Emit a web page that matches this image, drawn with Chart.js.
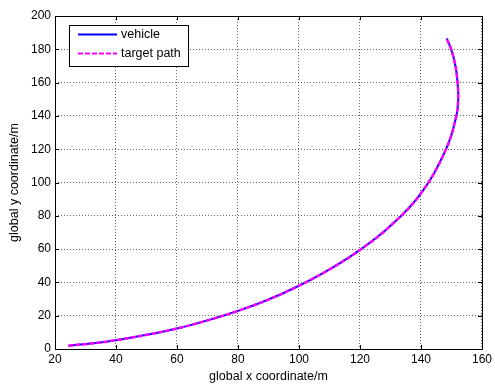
<!DOCTYPE html>
<html>
<head>
<meta charset="utf-8">
<title>global path</title>
<script src="https://cdn.jsdelivr.net/npm/chart.js@4.4.0/dist/chart.umd.min.js"></script>
<style>
  html, body { margin: 0; padding: 0; background: #fff; }
  canvas { display: block; }
</style>
</head>
<body>
<canvas id="pathChart" width="495" height="385"></canvas>
<script>
// values
const xTickValues = [20, 40, 60, 80, 100, 120, 140, 160];
const yTickValues = [0, 20, 40, 60, 80, 100, 120, 140, 160, 180, 200];

const vehicleX = [24.4, 32.5, 40, 50, 60, 70, 80, 90, 100, 110, 120, 130, 140, 148.2, 151.6, 152.2, 152.0, 151.3, 149.9, 148.4];
const vehicleY = [2.0, 3.4, 5.3, 8.5, 12.3, 17.2, 22.9, 29.7, 38.0, 47.8, 59.5, 74.0, 93.5, 120, 140, 150, 160, 170, 180, 186.5];

const targetX = [24.4, 32.5, 40, 50, 60, 70, 80, 90, 100, 110, 120, 130, 140, 148.2, 151.6, 152.2, 152.0, 151.3, 149.9, 148.4];
const targetY = [2.0, 3.4, 5.3, 8.5, 12.3, 17.2, 22.9, 29.7, 38.0, 47.8, 59.5, 74.0, 93.5, 120, 140, 150, 160, 170, 180, 186.5];

const toPoints = (xs, ys) => xs.map((x, i) => ({x: x, y: ys[i]}));

Chart.defaults.font.family = '"Liberation Sans", Arial, sans-serif';
Chart.defaults.color = '#000';

// matlab style box, inward ticks and the legend box
const matlabFrame = {
  id: 'matlabFrame',
  afterDraw(chart) {
    const ctx = chart.ctx;
    const a = chart.chartArea;
    const sx = chart.scales.x;
    const sy = chart.scales.y;
    const tick = 4;
    ctx.save();
    ctx.strokeStyle = '#000';
    ctx.lineWidth = 1;
    ctx.setLineDash([]);
    ctx.beginPath();
    xTickValues.forEach(v => {
      const p = Math.round(sx.getPixelForValue(v)) + 0.5;
      ctx.moveTo(p, a.bottom); ctx.lineTo(p, a.bottom - tick);
      ctx.moveTo(p, a.top); ctx.lineTo(p, a.top + tick);
    });
    yTickValues.forEach(v => {
      const p = Math.round(sy.getPixelForValue(v)) + 0.5;
      ctx.moveTo(a.left, p); ctx.lineTo(a.left + tick, p);
      ctx.moveTo(a.right, p); ctx.lineTo(a.right - tick, p);
    });
    ctx.stroke();
    ctx.strokeRect(Math.round(a.left) + 0.5, Math.round(a.top) + 0.5,
      Math.round(a.right - a.left), Math.round(a.bottom - a.top));

    // legend
    const lx = 69.5, ly = 25.5, lw = 119, lh = 41;
    ctx.fillStyle = '#fff';
    ctx.fillRect(lx, ly, lw, lh);
    ctx.strokeRect(lx, ly, lw, lh);
    ctx.font = '12.5px "Liberation Sans", Arial, sans-serif';
    ctx.textBaseline = 'middle';
    ctx.fillStyle = '#000';
    const rows = [34.5, 53.5];
    chart.data.datasets.forEach((ds, i) => {
      ctx.beginPath();
      ctx.strokeStyle = ds.borderColor;
      ctx.lineWidth = 2;
      ctx.setLineDash(ds.borderDash || []);
      ctx.moveTo(78, rows[i]); ctx.lineTo(117, rows[i]);
      ctx.stroke();
      ctx.fillText(ds.label, 121, rows[i]);
    });
    ctx.restore();
  }
};

new Chart(document.getElementById('pathChart'), {
  type: 'scatter',
  data: {
    datasets: [{
      label: 'vehicle',
      data: toPoints(vehicleX, vehicleY),
      showLine: true,
      borderColor: '#0000ff',
      borderWidth: 2,
      pointRadius: 0,
      tension: 0.4,
      order: 1
    },
    {
      label: 'target path',
      data: toPoints(targetX, targetY),
      showLine: true,
      borderColor: '#ff00ff',
      borderWidth: 2.5,
      borderDash: [5, 2],
      pointRadius: 0,
      tension: 0.4,
      order: 0
    }]
  },
  plugins: [matlabFrame],
  options: {
    responsive: false,
    animation: false,
    layout: {padding: {top: 16, right: 12, left: 0, bottom: 0}},
    plugins: {legend: {display: false}, tooltip: {enabled: false}},
    scales: {
      x: {
        type: 'linear',
        min: 20,
        max: 160,
        afterBuildTicks: s => { s.ticks = xTickValues.map(v => ({value: v})); },
        afterFit: s => { s.height = 36; },
        grid: {color: 'rgba(0,0,0,0.6)', lineWidth: 1, drawTicks: false},
        border: {display: false, dash: [1, 2]},
        ticks: {font: {size: 12}, padding: 3, maxRotation: 0},
        title: {display: true, text: 'global x coordinate/m', font: {size: 12.5}, padding: {top: 0, bottom: 1}}
      },
      y: {
        type: 'linear',
        min: 0,
        max: 200,
        afterBuildTicks: s => { s.ticks = yTickValues.map(v => ({value: v})); },
        afterFit: s => { s.width = 55; },
        grid: {color: 'rgba(0,0,0,0.6)', lineWidth: 1, drawTicks: false},
        border: {display: false, dash: [1, 2]},
        ticks: {font: {size: 12}, padding: 4},
        title: {display: true, text: 'global y coordinate/m', font: {size: 12.5}, padding: {top: 7.5, bottom: 0}}
      }
    }
  }
});
</script>
</body>
</html>
